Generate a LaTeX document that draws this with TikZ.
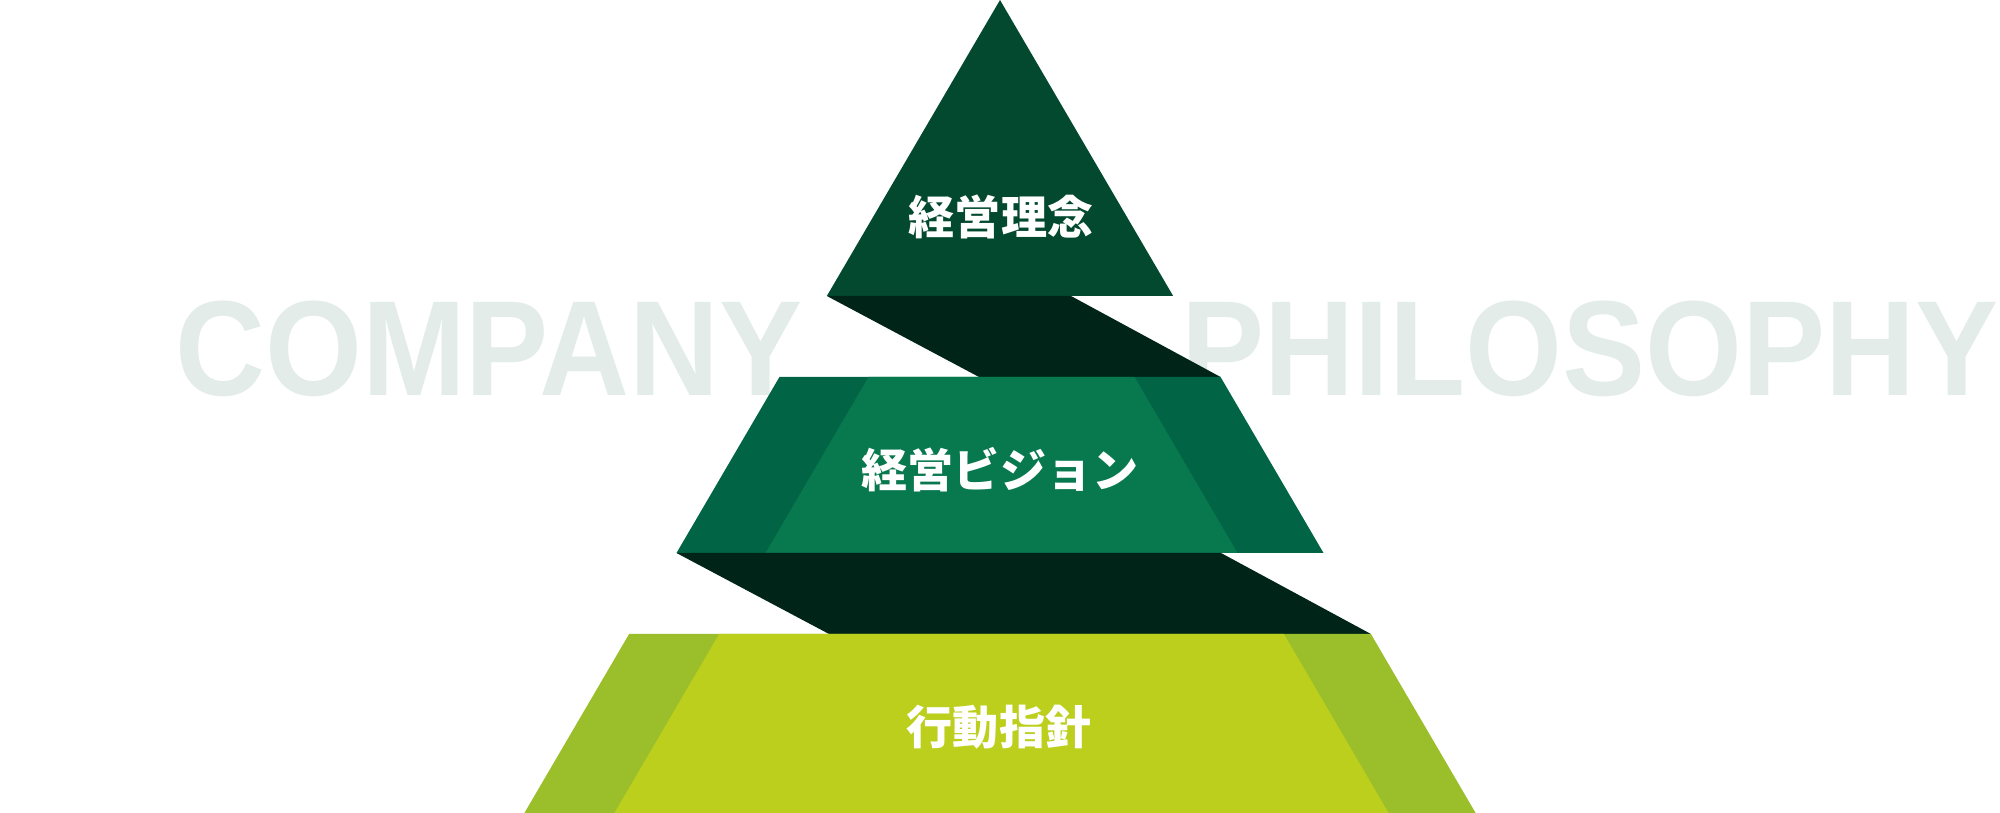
\documentclass[tikz,border=0pt]{standalone}
\usepackage{fontspec}
\usepackage{xcolor}
\usepackage{tikz}
\setmainfont{Liberation Sans}
\newfontfamily\jpfont{Noto Sans CJK JP}

\definecolor{topgreen}{RGB}{3,73,47}
\definecolor{shadegreen}{RGB}{0,37,24}
\definecolor{midouter}{RGB}{0,100,69}
\definecolor{midinner}{RGB}{8,120,78}
\definecolor{lowouter}{RGB}{155,190,43}
\definecolor{lowinner}{RGB}{188,207,29}
\definecolor{titlegray}{RGB}{227,236,232}

\tikzset{
  bigtitle/.style={inner sep=0pt,anchor=base,text=titlegray,xscale=0.92,
    font=\fontsize{38.5pt}{40pt}\selectfont\bfseries},
  levellabel/.style={inner sep=0pt,text=white,
    font=\fontsize{13.1pt}{15pt}\selectfont\jpfont\bfseries}
}

\begin{document}
\begin{tikzpicture}[x=0.01cm,y=-0.01cm]

\useasboundingbox (0,0) rectangle (2000,813);

% slope of the pyramid sides and the level heights
\def\slope{0.585}
\def\ya{296}
\def\yb{377}
\def\yc{553}
\def\yd{634}
\def\ye{813}

% background titles
\node[bigtitle] (company) at (489,396) {COMPANY};
\node[bigtitle] (philosophy) at (1590,396) {PHILOSOPHY};

% top level
\fill[topgreen] (1000,0) -- ({1000-\slope*\ya},\ya) -- ({1000+\slope*\ya},\ya) -- cycle;

% shade between top and middle
\fill[shadegreen] ({1000-\slope*\ya},\ya) -- (1071,\ya) -- ({1000+\slope*\yb},\yb) -- (979,\yb) -- cycle;

% middle level
\fill[midouter] ({1000-\slope*\yb},\yb) -- ({1000+\slope*\yb},\yb) -- ({1000+\slope*\yc},\yc) -- ({1000-\slope*\yc},\yc) -- cycle;
\fill[midinner] ({1089-\slope*\yb},\yb) -- ({914+\slope*\yb},\yb) -- ({914+\slope*\yc},\yc) -- ({1089-\slope*\yc},\yc) -- cycle;

% shade between middle and bottom
\fill[shadegreen] ({1000-\slope*\yc},\yc) -- (1221,\yc) -- ({1000+\slope*\yd},\yd) -- (829,\yd) -- cycle;

% bottom level
\fill[lowouter] ({1000-\slope*\yd},\yd) -- ({1000+\slope*\yd},\yd) -- ({1000+\slope*\ye},\ye) -- ({1000-\slope*\ye},\ye) -- cycle;
\fill[lowinner] ({1090-\slope*\yd},\yd) -- ({913+\slope*\yd},\yd) -- ({913+\slope*\ye},\ye) -- ({1090-\slope*\ye},\ye) -- cycle;

% level labels
\node[levellabel] (philo) at (1001,217) {経営理念};
\node[levellabel] (vision) at (1000,470) {経営ビジョン};
\node[levellabel] (action) at (999,727) {行動指針};

\end{tikzpicture}
\end{document}
